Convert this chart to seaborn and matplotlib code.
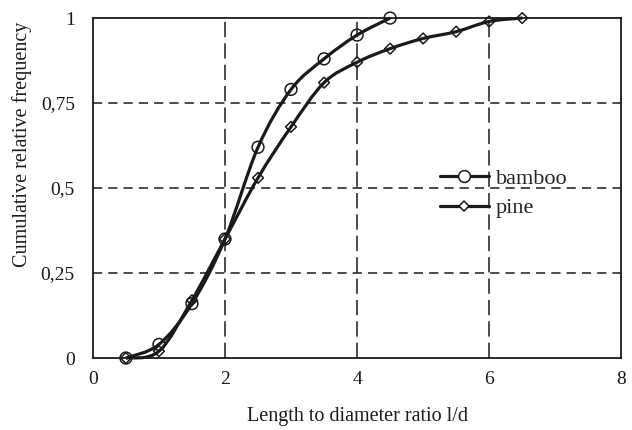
import numpy as np
import pandas as pd
import seaborn as sns
import matplotlib
matplotlib.use("Agg")
import matplotlib.pyplot as plt
from matplotlib.path import Path
from matplotlib.patches import PathPatch
from matplotlib.lines import Line2D
from matplotlib.ticker import FuncFormatter

# Length-to-diameter ratio classes
bamboo_ld = [0.5, 1.0, 1.5, 2.0, 2.5, 3.0, 3.5, 4.0, 4.5]
bamboo_cum = [0.0, 0.04, 0.16, 0.35, 0.62, 0.79, 0.88, 0.95, 1.0]

pine_ld = [0.5, 1.0, 1.5, 2.0, 2.5, 3.0, 3.5, 4.0, 4.5, 5.0, 5.5, 6.0, 6.5]
pine_cum = [0.0, 0.02, 0.17, 0.35, 0.53, 0.68, 0.81, 0.87, 0.91, 0.94, 0.96, 0.99, 1.0]

x_ticks = [0, 2, 4, 6, 8]
y_ticks = [0, 0.25, 0.5, 0.75, 1.0]

sns.set_theme(style="white")
plt.rcParams["font.family"] = ["Liberation Serif", "DejaVu Serif"]

df = pd.concat([
    pd.DataFrame({"ld": bamboo_ld, "cum": bamboo_cum, "species": "bamboo"}),
    pd.DataFrame({"ld": pine_ld, "cum": pine_cum, "species": "pine"}),
])

ink = "#1a1a1a"
fig = plt.figure(figsize=(6.32, 4.30), dpi=100)
ax = fig.add_axes([0.147, 0.1674, 0.836, 0.7906])


def smooth_path(xs, ys):
    """Bezier path through the points (Catmull-Rom style control points)."""
    pts = np.column_stack([xs, ys]).astype(float)
    n = len(pts)
    verts = [pts[0]]
    codes = [Path.MOVETO]
    for i in range(n - 1):
        p0 = pts[i - 1] if i > 0 else pts[i]
        p1 = pts[i]
        p2 = pts[i + 1]
        p3 = pts[i + 2] if i + 2 < n else pts[i + 1]
        c1 = p1 + (p2 - p0) / 6.0
        c2 = p2 - (p3 - p1) / 6.0
        verts += [c1, c2, p2]
        codes += [Path.CURVE4] * 3
    return Path(verts, codes)


styles = {"bamboo": dict(marker="o", size=8.5), "pine": dict(marker="D", size=5.5)}
lw = 2.3

for name, sub in df.groupby("species"):
    patch = PathPatch(smooth_path(sub["ld"].values, sub["cum"].values),
                      facecolor="none", edgecolor=ink, lw=lw,
                      zorder=3, clip_on=False)
    ax.add_patch(patch)
    sns.scatterplot(data=sub, x="ld", y="cum", ax=ax,
                    marker=styles[name]["marker"], s=styles[name]["size"] ** 2,
                    facecolors="none", edgecolor=ink, linewidth=1.1,
                    zorder=4, clip_on=False, legend=False)

ax.set_xlim(0, 8)
ax.set_ylim(0, 1)
ax.set_xticks(x_ticks)
ax.set_yticks(y_ticks)
ax.yaxis.set_major_formatter(FuncFormatter(
    lambda v, _: ("%g" % v).replace(".", ",")))
ax.tick_params(axis="both", length=0, labelsize=14, colors=ink)
ax.tick_params(axis="y", pad=13)
ax.tick_params(axis="x", pad=9)

for v in x_ticks[1:-1]:
    ax.axvline(v, color=ink, lw=1.1, dashes=(10, 4), zorder=1)
for v in y_ticks[1:-1]:
    ax.axhline(v, color=ink, lw=1.1, dashes=(6, 4), zorder=1)

for sp in ax.spines.values():
    sp.set_color(ink)
    sp.set_linewidth(1.3)

ax.set_xlabel("Length to diameter ratio l/d", fontsize=14.5, color=ink, labelpad=14)
ax.set_ylabel("Cumulative relative frequency", fontsize=14.5, color=ink)
ax.yaxis.set_label_coords(-0.115, 0.63)

handles = [
    Line2D([], [], color=ink, lw=lw, marker="o", markersize=8.5,
           markerfacecolor="white", markeredgewidth=1.1),
    Line2D([], [], color=ink, lw=lw, marker="D", markersize=5.5,
           markerfacecolor="white", markeredgewidth=1.1),
]
ax.legend(handles, ["bamboo", "pine"], loc="upper left",
          bbox_to_anchor=(0.657, 0.558), frameon=False, fontsize=16,
          handlelength=2.2, handletextpad=0.3, labelspacing=0.4,
          borderpad=0, borderaxespad=0)

fig.savefig("out.png", dpi=100, facecolor="white")
